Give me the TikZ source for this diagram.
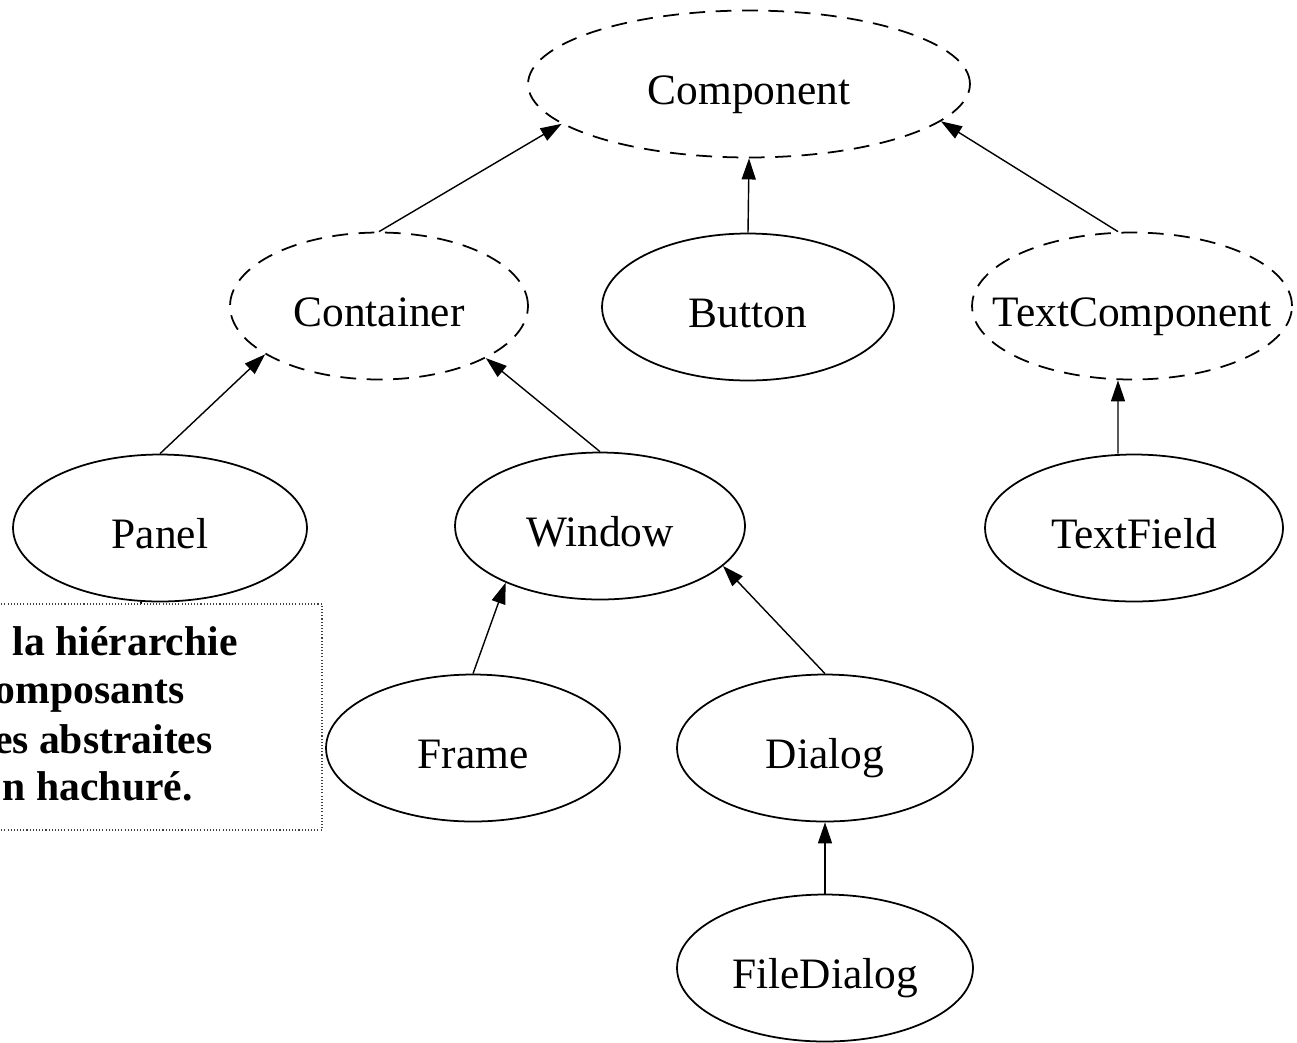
\documentclass[tikz,border=0pt]{standalone}
\usepackage{fontspec}
\setmainfont{Liberation Serif}
\usetikzlibrary{shapes.geometric,arrows.meta}

\tikzset{
  cls/.style={draw, ellipse, line width=1pt, inner sep=0pt,
    text height=0.8cm, text depth=0pt,
    minimum height=2.94cm, font=\fontsize{24.7}{30}\selectfont},
  abstractcls/.style={cls, dash pattern=on 9pt off 6pt},
  inherit/.style={-{Triangle[length=12pt,width=8pt]}, line width=0.8pt},
  captionbox/.style={draw=black!75, fill=white, line width=0.6pt,
    dash pattern=on 0.6pt off 1.2pt},
  captionline/.style={anchor=base east, inner sep=0pt,
    font=\bfseries\fontsize{23.7}{28}\selectfont},
}

\begin{document}
\begin{tikzpicture}[x=0.02cm, y=-0.02cm]
  \useasboundingbox (0,0) rectangle (1297,1042);
  \clip (0,0) rectangle (1297,1042);

  %%% classes, one row per level
  \node[abstractcls, minimum width=8.84cm] (Component) at (749,84) {Component};

  \node[abstractcls, minimum width=5.96cm] (Container) at (379,306) {Container};
  \node[cls, minimum width=5.84cm] (Button) at (748,307) {Button};
  \node[abstractcls, minimum width=6.4cm] (TextComponent) at (1132,306) {\makebox[0pt]{TextComponent}};

  \node[cls, minimum width=5.88cm] (Panel) at (160,528) {Panel};
  \node[cls, minimum width=5.8cm] (Window) at (600,526) {Window};
  \node[cls, minimum width=5.96cm] (TextField) at (1134,528) {TextField};

  \node[cls, minimum width=5.88cm] (Frame) at (473,748) {Frame};
  \node[cls, minimum width=5.92cm] (Dialog) at (825,748) {Dialog};

  \node[cls, minimum width=5.92cm] (FileDialog) at (825,968) {FileDialog};

  %%% inheritance arrows, child -> parent
  \draw[inherit] (Container.north) -- (Component.192);
  \draw[inherit] (Button.north) -- (Component.south);
  \draw[inherit] ([xshift=-0.28cm]TextComponent.north) -- (Component.349);
  \draw[inherit] (Panel.north) -- (Container.203);
  \draw[inherit] (Window.north) -- (Container.334);
  \draw[inherit] ([xshift=-0.32cm]TextField.north) -- ([xshift=-0.28cm]TextComponent.south);
  \draw[inherit] (Frame.north) -- (Window.211);
  \draw[inherit] (Dialog.north) -- (Window.342);
  \draw[inherit] (FileDialog.north) -- (Dialog.south);

  \draw[line width=0.8pt] ([xshift=-0.38cm]Panel.south) -- ++(0,20);

  %%% caption box over the lower left corner
  \draw[captionbox] (-10,604) rectangle (322,830);
  \node[captionline] (cap1) at (238,655) {la hiérarchie};
  \node[captionline] (cap2) at (185,703) {omposants};
  \node[captionline] (cap3) at (213,753) {es abstraites};
  \node[captionline] (cap4) at (193,800) {n hachuré.};
\end{tikzpicture}
\end{document}
